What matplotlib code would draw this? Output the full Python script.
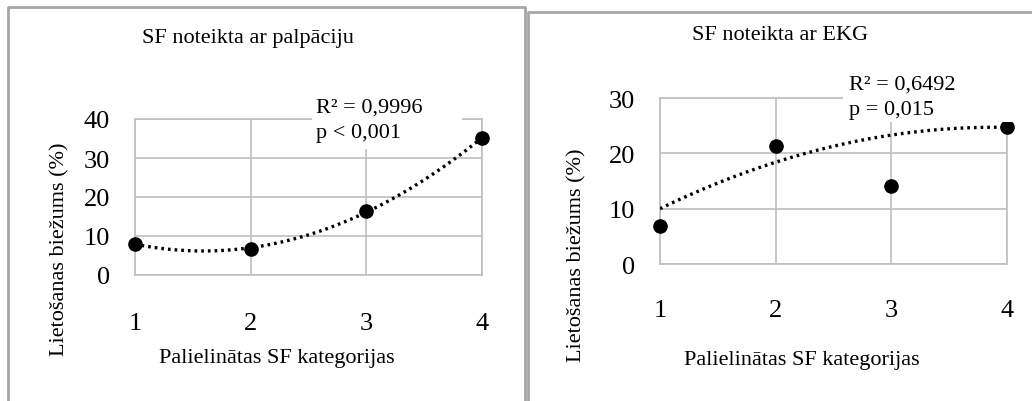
import numpy as np
import matplotlib
matplotlib.use("Agg")
import matplotlib.pyplot as plt
from matplotlib.patches import Rectangle
from matplotlib.lines import Line2D

plt.rcParams["font.family"] = ["Liberation Serif", "DejaVu Serif"]

categories = [1, 2, 3, 4]
palp_values = [8.0, 6.7, 16.4, 35.1]
ekg_values = [6.9, 21.3, 14.1, 24.8]
# quadratic trendline of the EKG panel (a, b, c)
ekg_trend = [-1.75, 13.65, -1.9]

titles = ["SF noteikta ar palpāciju", "SF noteikta ar EKG"]
notes = ["R² = 0,9996\np < 0,001", "R² = 0,6492\np = 0,015"]
xlabel = "Palielinātas SF kategorijas"
ylabel = "Lietošanas biežums (%)"

W, H = 1032, 402
fig = plt.figure(figsize=(W / 100, H / 100), dpi=100)


def fx(px):
    return px / W


def fy(py):
    return 1 - py / H


GRID = "#bfbfbf"


def panel(rect, values, trend, ymax, ticks, xpad):
    ax = fig.add_axes(rect)
    ax.set_xlim(1, 4)
    ax.set_ylim(0, ymax)
    ax.set_xticks(categories)
    ax.set_yticks(ticks)
    ax.grid(True, color=GRID, lw=1.2)
    ax.set_axisbelow(True)
    for s in ax.spines.values():
        s.set_color(GRID)
        s.set_linewidth(1.2)
    ax.tick_params(length=0, labelsize=19)
    ax.tick_params(axis="x", pad=xpad)
    ax.tick_params(axis="y", pad=18)
    xs = np.linspace(1, 4, 200)
    ax.plot(xs, np.polyval(trend, xs), color="black", lw=2.4,
            ls=(0, (0.8, 1.2)), zorder=3)
    ax.plot(categories, values, "o", color="black", ms=9.5, clip_on=False,
            zorder=4)
    return ax


palp_trend = np.polyfit(categories, palp_values, 2)
panel([fx(135), fy(276), fx(347), 156 / H], palp_values, palp_trend, 40,
      [0, 10, 20, 30, 40], 27)
panel([fx(660), fy(265), fx(347), 166 / H], ekg_values, ekg_trend, 30,
      [0, 10, 20, 30], 25)

# white label boxes sitting on top of the grid
for x0, y0, x1, y1 in [(312, 95, 462, 150), (843, 70, 1012, 123)]:
    fig.patches.append(Rectangle((fx(x0), fy(y1)), fx(x1 - x0),
                                 (y1 - y0) / H, transform=fig.transFigure,
                                 facecolor="white", edgecolor="none",
                                 zorder=1))

fig.text(fx(316), fy(121), notes[0], fontsize=16, va="center",
         linespacing=1.45, zorder=2)
fig.text(fx(849), fy(98), notes[1], fontsize=16, va="center",
         linespacing=1.45, zorder=2)

fig.text(fx(248), fy(38), titles[0], fontsize=16, ha="center", va="center")
fig.text(fx(780), fy(35), titles[1], fontsize=16, ha="center", va="center")
fig.text(fx(277), fy(359), xlabel, fontsize=16, ha="center", va="center")
fig.text(fx(802), fy(361), xlabel, fontsize=16, ha="center", va="center")
fig.text(fx(60), fy(249), ylabel, fontsize=16, ha="center", va="center",
         rotation=90)
fig.text(fx(577), fy(255), ylabel, fontsize=16, ha="center", va="center",
         rotation=90)

# frames around the two figures
BOX = "#a6a6a6"
for xs, ys in [([8, 8, 525, 525], [402, 8, 8, 402]),
               ([528, 528, 1032], [402, 13, 13])]:
    fig.add_artist(Line2D([fx(v) for v in xs], [fy(v) for v in ys],
                          color=BOX, lw=2, transform=fig.transFigure))

fig.savefig("out.png", dpi=100)
